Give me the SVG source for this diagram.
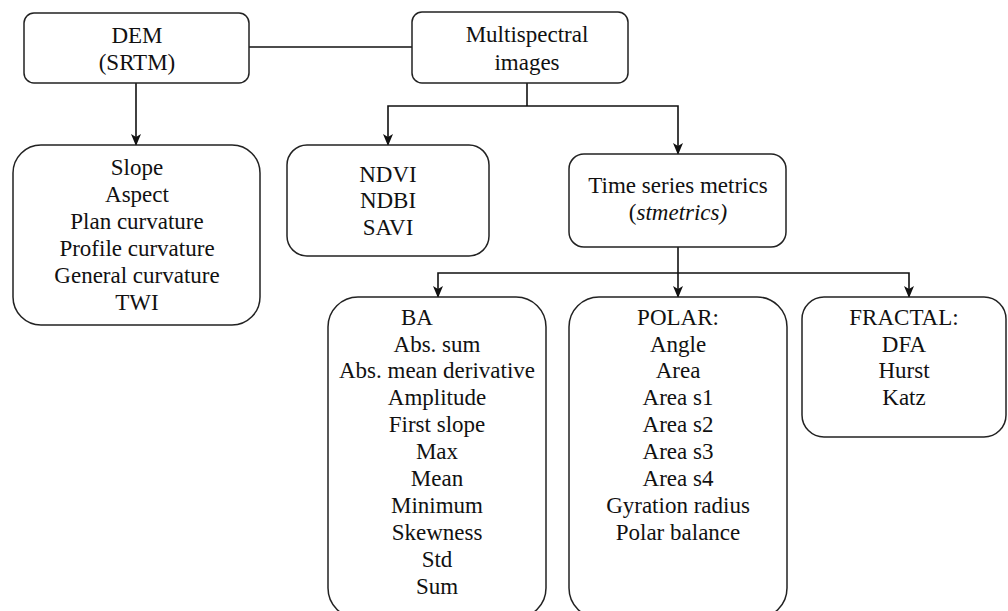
<svg xmlns="http://www.w3.org/2000/svg" width="1008" height="611" viewBox="0 0 1008 611">
<style>
.box{fill:#fff;stroke:#222;stroke-width:1.5}
.t{font-family:'Liberation Serif','Times New Roman',serif;font-size:23px;fill:#111;text-anchor:middle}
.c{fill:none;stroke:#111;stroke-width:1.6}
</style>
<defs>
<marker id="ah" viewBox="0 0 12 12" refX="11" refY="6" markerWidth="12" markerHeight="12" markerUnits="userSpaceOnUse" orient="auto">
<path d="M0,1 L12,6 L0,11 L3,6 Z" fill="#111"/>
</marker>
</defs>
<rect width="1008" height="611" fill="#fff"/>
<g id="connectors">
<line class="c" x1="249" y1="47" x2="412" y2="47"/>
<line class="c" x1="136" y1="83" x2="136" y2="145" marker-end="url(#ah)"/>
<line class="c" x1="527" y1="83" x2="527" y2="106"/>
<polyline class="c" points="527,106 388,106 388,145" marker-end="url(#ah)"/>
<polyline class="c" points="527,106 678,106 678,154" marker-end="url(#ah)"/>
<line class="c" x1="678" y1="247" x2="678" y2="297" marker-end="url(#ah)"/>
<polyline class="c" points="678,273 438,273 438,297" marker-end="url(#ah)"/>
<polyline class="c" points="678,273 909,273 909,297" marker-end="url(#ah)"/>
</g>
<g id="dem">
<rect class="box" x="24" y="13" width="225" height="70" rx="10"/>
<text class="t" x="137" y="43">DEM</text>
<text class="t" x="137" y="70">(SRTM)</text>
</g>
<g id="multispectral">
<rect class="box" x="412" y="12" width="216" height="71" rx="10"/>
<text class="t" x="527" y="42">Multispectral</text>
<text class="t" x="527" y="70">images</text>
</g>
<g id="terrain">
<rect class="box" x="13" y="145" width="247" height="180" rx="28"/>
<text class="t" x="137" y="175">Slope</text>
<text class="t" x="137" y="202">Aspect</text>
<text class="t" x="137" y="229">Plan curvature</text>
<text class="t" x="137" y="256">Profile curvature</text>
<text class="t" x="137" y="283">General curvature</text>
<text class="t" x="137" y="310">TWI</text>
</g>
<g id="indices">
<rect class="box" x="287" y="145" width="202" height="111" rx="20"/>
<text class="t" x="388" y="182">NDVI</text>
<text class="t" x="388" y="208">NDBI</text>
<text class="t" x="388" y="235">SAVI</text>
</g>
<g id="timeseries">
<rect class="box" x="569" y="154" width="217" height="93" rx="15"/>
<text class="t" x="678" y="193">Time series metrics</text>
<text class="t" x="678" y="220">(<tspan font-style="italic">stmetrics)</tspan></text>
</g>
<g id="ba">
<rect class="box" x="328" y="297" width="218" height="321" rx="30"/>
<text class="t" x="417" y="325">BA</text>
<text class="t" x="437" y="352">Abs. sum</text>
<text class="t" x="437" y="378">Abs. mean derivative</text>
<text class="t" x="437" y="405">Amplitude</text>
<text class="t" x="437" y="432">First slope</text>
<text class="t" x="437" y="459">Max</text>
<text class="t" x="437" y="486">Mean</text>
<text class="t" x="437" y="513">Minimum</text>
<text class="t" x="437" y="540">Skewness</text>
<text class="t" x="437" y="567">Std</text>
<text class="t" x="437" y="594">Sum</text>
</g>
<g id="polar">
<rect class="box" x="569" y="297" width="218" height="321" rx="30"/>
<text class="t" x="678" y="325">POLAR:</text>
<text class="t" x="678" y="352">Angle</text>
<text class="t" x="678" y="378">Area</text>
<text class="t" x="678" y="405">Area s1</text>
<text class="t" x="678" y="432">Area s2</text>
<text class="t" x="678" y="459">Area s3</text>
<text class="t" x="678" y="486">Area s4</text>
<text class="t" x="678" y="513">Gyration radius</text>
<text class="t" x="678" y="540">Polar balance</text>
</g>
<g id="fractal">
<rect class="box" x="802" y="297" width="204" height="140" rx="22"/>
<text class="t" x="904" y="325">FRACTAL:</text>
<text class="t" x="904" y="352">DFA</text>
<text class="t" x="904" y="378">Hurst</text>
<text class="t" x="904" y="405">Katz</text>
</g>
</svg>
